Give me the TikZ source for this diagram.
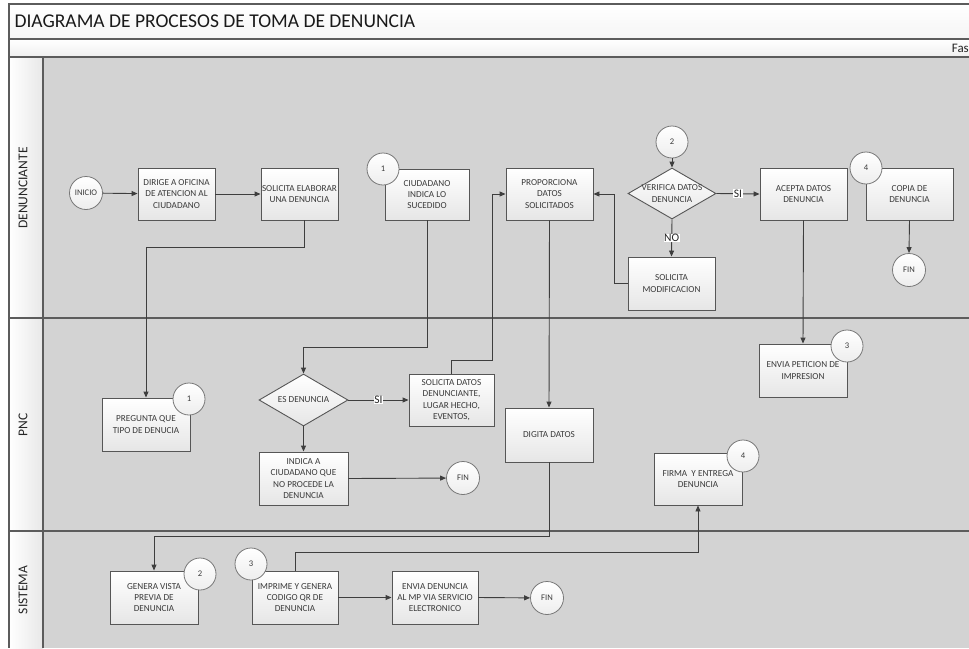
\documentclass[tikz,border=0pt]{standalone}
\usepackage{fontspec}
\setmainfont{Carlito}
\usepackage{tikz}
\usetikzlibrary{shapes.geometric, arrows.meta, positioning, calc}
\definecolor{LaneGray}{HTML}{D3D3D3}
\definecolor{Frame}{HTML}{5C5C5C}
\definecolor{Wire}{HTML}{3E3E3E}
\definecolor{BoxEdge}{HTML}{565656}
\definecolor{BoxShade}{HTML}{E6E6E6}
\definecolor{TextInk}{HTML}{3A3A3A}

\begin{document}
\begin{tikzpicture}[x=1pt, y=-1pt, >={Triangle[length=6pt,width=5pt]},
  task/.style={rectangle, draw=BoxEdge, line width=0.9pt, top color=white, bottom color=BoxShade,
               minimum width=87pt, minimum height=52pt, inner sep=1pt, align=center,
               text=TextInk, font=\fontsize{9.2}{11.4}\selectfont},
  decision/.style={diamond, draw=BoxEdge, line width=0.9pt, top color=white, bottom color=BoxShade,
               minimum width=89pt, minimum height=52pt, inner sep=0pt,
               label={[text=TextInk, font=\fontsize{9.2}{11.4}\selectfont, align=center]center:#1}},
  term/.style={circle, draw=BoxEdge!80, line width=0.8pt, top color=white, bottom color=BoxShade!70,
               minimum size=33pt, inner sep=0pt, text=TextInk, font=\fontsize{8.6}{10}\selectfont},
  marker/.style={term, minimum size=32pt},
  lane/.style={rotate=90, text=black!85, font=\fontsize{13.5}{15}\selectfont},
  flow/.style={->, line width=0.9pt, color=Wire},
  yn/.style={fill=white, inner sep=0.5pt, text=black!85, font=\fontsize{11.5}{12}\selectfont}
]
\useasboundingbox (0,0) rectangle (969,648);

%% ---- Pool frame ----
\fill[top color=white, bottom color=black!4] (9,4) rectangle (969,39);
\fill[top color=white, bottom color=black!6] (9,39) rectangle (969,57);
\fill[LaneGray] (43,57) rectangle (969,648);
\shade[left color=white, right color=black!9] (9,57) rectangle (43,648);
\draw[Frame, line width=1.1pt] (969,4) -- (9,4) -- (9,648);
\draw[Frame, line width=1.1pt] (9,39) -- (969,39) (9,57) -- (969,57) (43,57) -- (43,648);
\draw[Frame, line width=1.1pt] (9,318) -- (969,318) (9,531) -- (969,531);

\node[anchor=west, text=black!90, font=\fontsize{19.5}{22}\selectfont] (title) at (11,21)
  {DIAGRAMA DE PROCESOS DE TOMA DE DENUNCIA};
\node[anchor=base east, inner sep=0pt, text=black!85, font=\fontsize{13}{14}\selectfont] (fase) at (969,52) {Fas};

\node[lane] (denlane) at (23,188) {DENUNCIANTE};
\node[lane] (pnclane) at (23,425) {PNC};
\node[lane] (sislane) at (23,590) {SISTEMA};

%% ---- Denunciante ----
\node[term] (inicio) at (86,193) {INICIO};
\node[task, minimum width=77pt] (dirige) at (176.5,194) {DIRIGE A OFICINA\\DE ATENCION AL\\CIUDADANO};
\node[task, minimum width=77pt] (solelab) at (299.5,194) {SOLICITA ELABORAR\\UNA DENUNCIA};
\node[task, minimum width=84pt, minimum height=51pt] (ciudadano) at (427,194.5) {CIUDADANO\\INDICA LO\\SUCEDIDO};
\node[task] (proporciona) at (549.5,194) {PROPORCIONA\\DATOS\\SOLICITADOS};
\node[decision={VERIFICA DATOS\\DENUNCIA}, minimum width=88pt, minimum height=51pt] (verifica) at (672,193.5) {};
\node[task] (acepta) at (803.5,194) {ACEPTA DATOS\\DENUNCIA};
\node[task] (copia) at (909.5,194) {COPIA DE\\DENUNCIA};
\node[task, minimum height=53pt] (solmod) at (671.5,283.5) {SOLICITA\\MODIFICACION};
\node[term] (fincopia) at (909,270) {FIN};

\node[marker] (uno) at (383,169) {1};
\node[marker] (dos) at (672,142) {2};
\node[marker] (cuatro) at (866,168) {4};

%% ---- PNC ----
\node[task, minimum width=88pt, minimum height=53pt] (pregunta) at (146,424.5) {PREGUNTA QUE\\TIPO DE DENUCIA};
\node[decision={ES DENUNCIA}] (esden) at (303.5,400) {};
\node[task, minimum width=85pt] (soldatos) at (451.5,400) {SOLICITA DATOS\\DENUNCIANTE,\\LUGAR HECHO,\\EVENTOS,};
\node[task, minimum width=89pt, minimum height=53pt] (indica) at (303.5,478.5) {INDICA A\\CIUDADANO QUE\\NO PROCEDE LA\\DENUNCIA};
\node[term] (finpnc) at (463,478) {FIN};
\node[task, minimum width=88pt, minimum height=54pt] (digita) at (549,435) {DIGITA DATOS};
\node[task, minimum width=88pt, minimum height=53pt] (envia) at (803,370.5) {ENVIA PETICION DE\\IMPRESION};
\node[task, minimum width=88pt] (firma) at (698,479) {FIRMA \ Y ENTREGA\\DENUNCIA};

\node[marker] (unob) at (189,399) {1};
\node[marker] (tresb) at (847,346) {3};
\node[marker] (cuatrob) at (743,456) {4};

%% ---- Sistema ----
\node[task, minimum width=88pt, minimum height=53pt] (genera) at (154,597.5) {GENERA VISTA\\PREVIA DE\\DENUNCIA};
\node[task, minimum width=86pt, minimum height=53pt] (imprime) at (295,597.5) {IMPRIME Y GENERA\\CODIGO QR DE\\DENUNCIA};
\node[task, minimum width=86pt, minimum height=53pt] (enviaden) at (435,597.5) {ENVIA DENUNCIA\\AL MP VIA SERVICIO\\ELECTRONICO};
\node[term] (finsis) at (547,598) {FIN};

\node[marker] (dosc) at (200,574) {2};
\node[marker] (tresc) at (251,564) {3};

%% ---- Arrows ----
\draw[flow] (inicio) -- (dirige);
\draw[flow] (dirige) -- (solelab);
\draw[flow] ([xshift=5pt]solelab.south) -- ++(0,27) -| (pregunta.north);
\draw[flow] (ciudadano.south) -- ++(0,127) -| (esden.north);
\draw[flow] (esden.east) -- node[yn]{SI} (soldatos.west);
\draw[flow] (esden.south) -- (indica.north);
\draw[flow] (indica.east) -- (finpnc);
\draw[flow] (soldatos.north) -- ++(0,-13) -- ++(40.5,0) |- (proporciona.west);
\draw[flow] (proporciona.south) -- (digita.north);
\draw[flow] (digita.south) -- ++(0,74) -| (genera.north);
\draw[flow] (dos) -- (verifica.north);
\draw[flow] (verifica.east) -- node[yn]{SI} (acepta.west);
\draw[flow] (verifica.south) -- node[yn]{NO} (solmod.north);
\draw[flow] (solmod.west) -- ++(-13,0) |- (proporciona.east);
\draw[flow] (acepta.south) -- (envia.north);
\draw[flow] (copia.south) -- (fincopia.north);
\draw[flow] (imprime.north) -- ++(0,-18) -| (firma.south);
\draw[flow] (imprime.east) -- (enviaden.west);
\draw[flow] (enviaden.east) -- (finsis);

\end{tikzpicture}
\end{document}
